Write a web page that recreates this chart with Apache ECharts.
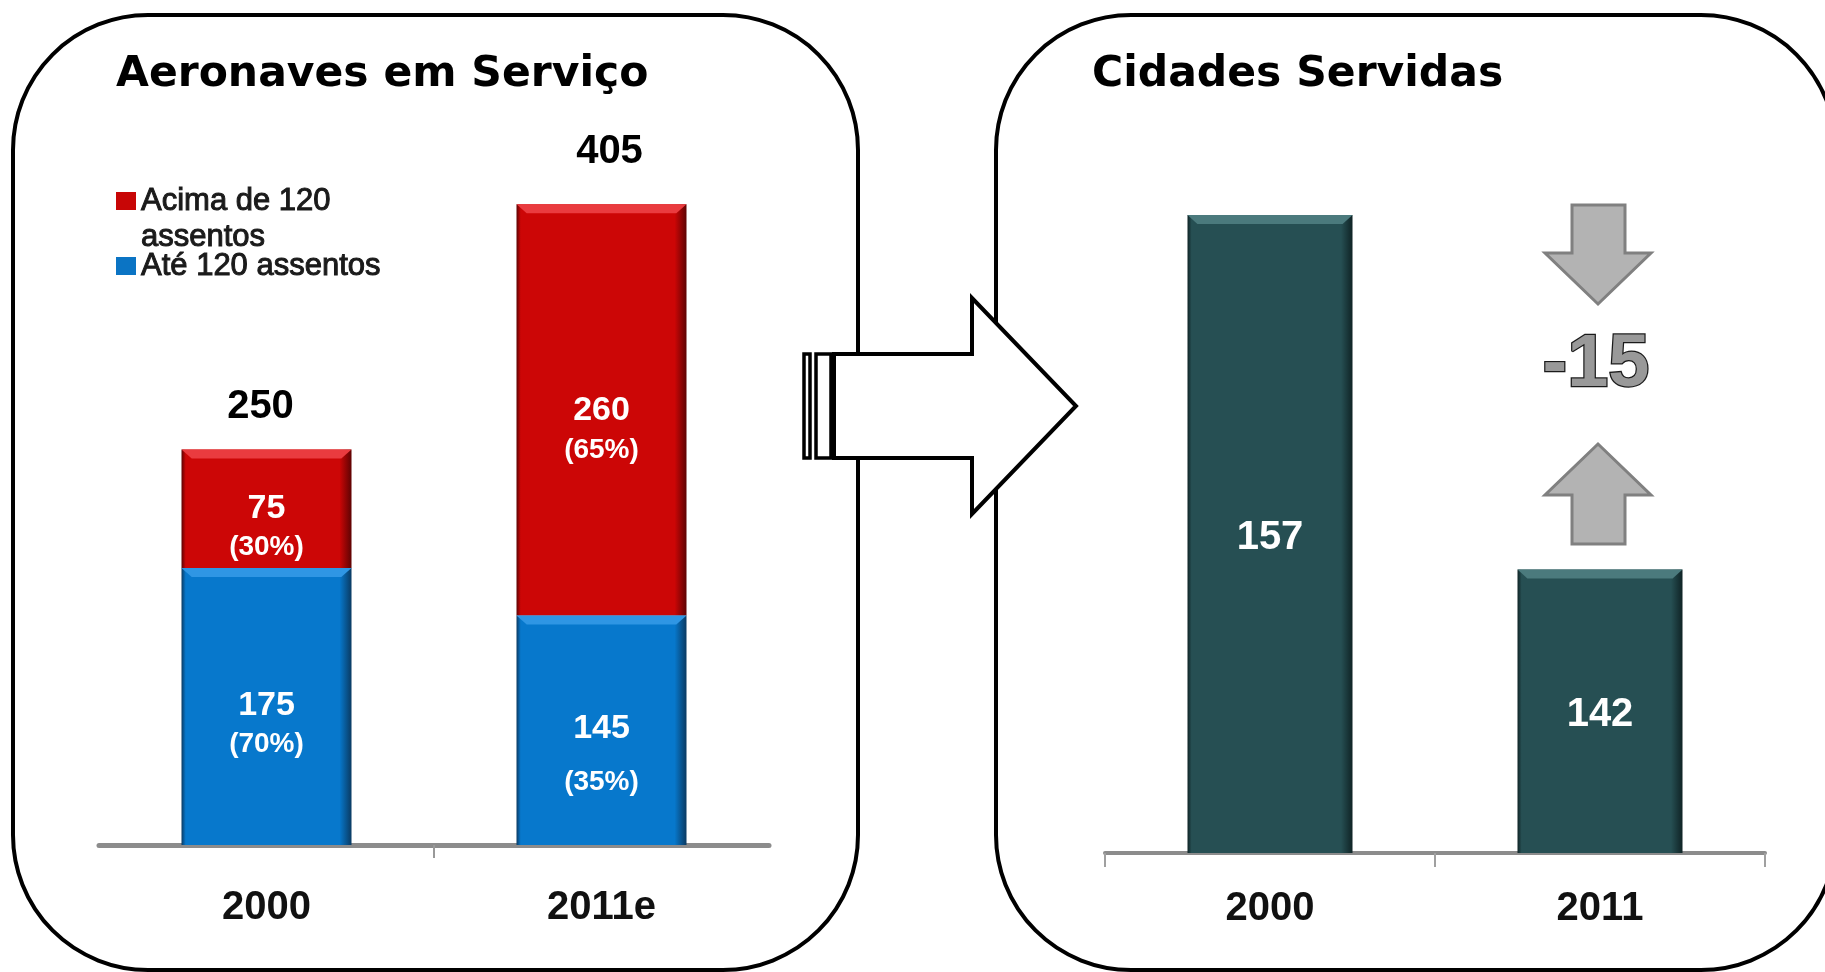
<!DOCTYPE html>
<html>
<head>
<meta charset="utf-8">
<title>Aeronaves em Serviço / Cidades Servidas</title>
<script src="https://cdn.jsdelivr.net/npm/echarts@6/dist/echarts.min.js"></script>
<style>
  html, body { margin: 0; padding: 0; background: #fff; }
  #main { width: 1825px; height: 972px; }
</style>
</head>
<body>
<div id="main"></div>
<script>
// dados
const fleetYears = ['2000', '2011e']
const acimaDe120 = [75, 260]
const ate120 = [175, 145]
const acimaShare = ['30%', '65%']
const ateShare = ['70%', '35%']

const cityYears = ['2000', '2011']
const cidades = [157, 142]

const fleetTotals = acimaDe120.map((v, i) => v + ate120[i])
const cityChange = cidades[1] - cidades[0]

const FONT = 'Liberation Sans, Arial, sans-serif'

var myChart = echarts.init(document.getElementById('main'))

function edge(base, dark) {
  return new echarts.graphic.LinearGradient(0, 0, 1, 0, [
    { offset: 0, color: dark },
    { offset: 0.025, color: base },
    { offset: 0.93, color: base },
    { offset: 1, color: dark }
  ])
}

const richNum = {
  n: { fontSize: 34, fontWeight: 'bold', color: '#fff', lineHeight: 42, fontFamily: FONT },
  p: { fontSize: 28, fontWeight: 'bold', color: '#fff', lineHeight: 36, fontFamily: FONT }
}

// deslocamento vertical dos rótulos dentro das barras
const acimaLabelShift = [18, 19]
const ateLabelShift = [17, 31]

const bevel = 'path://M0,0L100,0L94,10L6,10Z'

const legendText = {
  fontFamily: FONT, fontSize: 31, lineHeight: 36, color: '#1a1a1a',
  textBorderColor: '#1a1a1a', textBorderWidth: 1
}

var option = {
  animation: false,
  backgroundColor: '#fff',
  title: [
    {
      text: 'Aeronaves em Serviço',
      left: 116,
      top: 54,
      padding: 0,
      textStyle: { fontFamily: 'DejaVu Sans', fontWeight: 'bold', fontSize: 42.5, lineHeight: 42, color: '#000' }
    },
    {
      text: 'Cidades Servidas',
      left: 1092,
      top: 54,
      padding: 0,
      textStyle: { fontFamily: 'DejaVu Sans', fontWeight: 'bold', fontSize: 42.5, lineHeight: 42, color: '#000' }
    }
  ],
  legend: [
    {
      data: [{ name: 'Acima de 120 assentos', itemStyle: { color: '#c80606' } }],
      left: 116,
      top: 147,
      padding: 0,
      icon: 'rect',
      itemWidth: 20,
      itemHeight: 18,
      // linha vazia em cima para o ícone ficar na altura da primeira linha
      formatter: function () { return '\nAcima de 120\nassentos' },
      textStyle: legendText
    },
    {
      data: [{ name: 'Até 120 assentos', itemStyle: { color: '#0b74c4' } }],
      left: 116,
      top: 248,
      padding: 0,
      icon: 'rect',
      itemWidth: 20,
      itemHeight: 18,
      textStyle: legendText
    }
  ],
  grid: [
    { left: 99, top: 133, width: 670, height: 712 },
    { left: 1105, top: 144, width: 660, height: 709 }
  ],
  xAxis: [
    {
      type: 'category',
      gridIndex: 0,
      data: fleetYears,
      axisLine: { lineStyle: { color: '#8c8c8c', width: 5 } },
      axisTick: { show: false },
      axisLabel: { fontFamily: FONT, fontSize: 40, fontWeight: 'bold', color: '#111', lineHeight: 42, margin: 42 }
    },
    {
      type: 'value',
      gridIndex: 0,
      position: 'bottom',
      min: 0,
      max: 2,
      axisLine: { show: false },
      axisLabel: { show: false },
      splitLine: { show: false },
      axisTick: { show: true, customValues: [1], length: 13, lineStyle: { color: '#999', width: 2 } }
    },
    {
      type: 'category',
      gridIndex: 1,
      data: cityYears,
      axisLine: { lineStyle: { color: '#8c8c8c', width: 4 } },
      axisTick: { show: true, length: 14, lineStyle: { color: '#a0a0a0', width: 2 } },
      axisLabel: { fontFamily: FONT, fontSize: 40, fontWeight: 'bold', color: '#111', lineHeight: 42, margin: 35 }
    }
  ],
  yAxis: [
    { type: 'value', gridIndex: 0, min: 0, max: 450, show: false },
    { type: 'value', gridIndex: 1, min: 130, max: 160, show: false }
  ],
  series: [
    {
      name: 'Até 120 assentos',
      type: 'bar',
      xAxisIndex: 0,
      yAxisIndex: 0,
      stack: 'frota',
      barWidth: 170,
      itemStyle: { color: edge('#0778cc', '#0a3a62') },
      label: {
        show: true,
        position: 'inside',
        formatter: p => '{n|' + p.value + '}\n{p|(' + ateShare[p.dataIndex] + ')}',
        rich: richNum
      },
      data: ate120.map((v, i) => ({
        value: v,
        label: i === 1
          ? { offset: [0, ateLabelShift[i]], rich: { p: Object.assign({}, richNum.p, { lineHeight: 65 }) } }
          : { offset: [0, ateLabelShift[i]] }
      }))
    },
    {
      name: 'Acima de 120 assentos',
      type: 'bar',
      xAxisIndex: 0,
      yAxisIndex: 0,
      stack: 'frota',
      barWidth: 170,
      itemStyle: { color: edge('#cc0606', '#5e0303') },
      label: {
        show: true,
        position: 'inside',
        formatter: p => '{n|' + p.value + '}\n{p|(' + acimaShare[p.dataIndex] + ')}',
        rich: richNum
      },
      data: acimaDe120.map((v, i) => ({ value: v, label: { offset: [0, acimaLabelShift[i]] } }))
    },
    {
      // brilho no topo dos segmentos azuis
      type: 'pictorialBar',
      xAxisIndex: 0,
      yAxisIndex: 0,
      silent: true,
      barWidth: 170,
      barGap: '-100%',
      symbol: bevel,
      symbolSize: ['100%', 9],
      symbolPosition: 'end',
      itemStyle: { color: '#2f96e4' },
      z: 3,
      data: ate120
    },
    {
      type: 'pictorialBar',
      xAxisIndex: 0,
      yAxisIndex: 0,
      silent: true,
      barWidth: 170,
      barGap: '-100%',
      symbol: bevel,
      symbolSize: ['100%', 9],
      symbolPosition: 'end',
      itemStyle: { color: '#ea3b3f' },
      z: 3,
      data: fleetTotals
    },
    {
      // totais acima das barras
      type: 'scatter',
      xAxisIndex: 0,
      yAxisIndex: 0,
      symbolSize: 0,
      silent: true,
      itemStyle: { opacity: 1 },
      label: {
        show: true,
        position: 'top',
        distance: 27,
        fontFamily: FONT,
        fontSize: 40,
        fontWeight: 'bold',
        lineHeight: 40,
        color: '#000'
      },
      data: fleetTotals.map((v, i) => ({ value: v, label: { offset: i === 0 ? [-6, 5] : [8, -5] } }))
    },
    {
      name: 'Cidades Servidas',
      type: 'bar',
      xAxisIndex: 2,
      yAxisIndex: 1,
      barWidth: 165,
      itemStyle: { color: edge('#264f53', '#0f2325') },
      label: {
        show: true,
        position: 'inside',
        offset: [0, 4],
        fontFamily: FONT,
        fontSize: 40,
        fontWeight: 'bold',
        color: '#fff'
      },
      data: cidades
    },
    {
      type: 'pictorialBar',
      xAxisIndex: 2,
      yAxisIndex: 1,
      silent: true,
      barWidth: 165,
      symbol: bevel,
      symbolSize: ['100%', 9],
      symbolPosition: 'end',
      itemStyle: { color: '#4b7a7d' },
      z: 3,
      data: cidades
    }
  ],
  graphic: [
    // molduras arredondadas
    {
      type: 'rect',
      z: 0,
      shape: { x: 13, y: 15, width: 845, height: 955, r: 135 },
      style: { fill: 'rgba(0,0,0,0)', stroke: '#000', lineWidth: 4 }
    },
    {
      type: 'rect',
      z: 0,
      shape: { x: 996, y: 15, width: 840, height: 955, r: 135 },
      style: { fill: 'rgba(0,0,0,0)', stroke: '#000', lineWidth: 4 }
    },
    // seta grande entre os painéis
    {
      type: 'polygon',
      z: 50,
      shape: { points: [[834, 354], [972, 354], [972, 298], [1076, 406], [972, 514], [972, 458], [834, 458]] },
      style: { fill: '#fff', stroke: '#000', lineWidth: 4, lineJoin: 'miter' }
    },
    {
      type: 'rect',
      z: 50,
      shape: { x: 804, y: 354, width: 6, height: 104 },
      style: { fill: '#fff', stroke: '#000', lineWidth: 3.5 }
    },
    {
      type: 'rect',
      z: 50,
      shape: { x: 816, y: 354, width: 15, height: 104 },
      style: { fill: '#fff', stroke: '#000', lineWidth: 3.5 }
    },
    // setas cinzas e variação
    {
      type: 'polygon',
      z: 50,
      shape: { points: [[1572, 205], [1625, 205], [1625, 253], [1651, 253], [1598, 304], [1545, 253], [1572, 253]] },
      style: { fill: '#b3b3b3', stroke: '#808080', lineWidth: 3 }
    },
    {
      type: 'polygon',
      z: 50,
      shape: { points: [[1598, 444], [1651, 495], [1625, 495], [1625, 544], [1572, 544], [1572, 495], [1545, 495]] },
      style: { fill: '#b3b3b3', stroke: '#808080', lineWidth: 3 }
    },
    {
      type: 'text',
      z: 50,
      style: {
        text: String(cityChange),
        x: 1596,
        y: 366,
        align: 'center',
        verticalAlign: 'middle',
        font: 'bold 74px Liberation Sans, Arial, sans-serif',
        fill: '#999999',
        stroke: '#1a1a1a',
        lineWidth: 2.5
      }
    }
  ]
}

option && myChart.setOption(option)
</script>
</body>
</html>
